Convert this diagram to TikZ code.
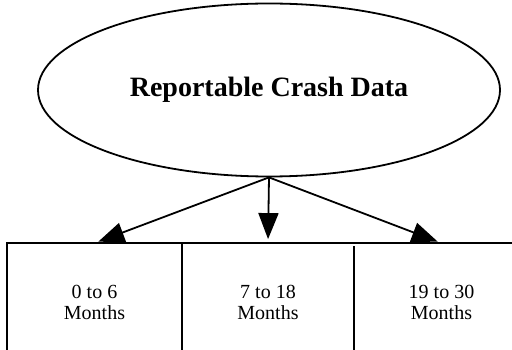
\documentclass[tikz,border=0pt]{standalone}
\usepackage{fontspec}
\setmainfont{Liberation Serif}
\usetikzlibrary{shapes.geometric,arrows.meta}

\begin{document}
\begin{tikzpicture}[x=1pt, y=-1pt, line width=1.8pt,
    >={Triangle[length=26pt, width=20pt]},
    period/.style={minimum width=173pt, minimum height=116pt, inner sep=0pt,
      align=center, font=\fontsize{20}{21}\selectfont}]
    \useasboundingbox (0,0) rectangle (512,350);
    % root ellipse
    \node[ellipse, draw, minimum width=462pt, minimum height=173pt,
      font=\fontsize{28}{30}\selectfont\bfseries] (data) at (269,90) {Reportable Crash Data};
    % the three periods
    \node[period] (p1) at (94.5,302) {0 to 6\\Months};
    \node[period] (p2) at (268,302) {7 to 18\\Months};
    \node[period] (p3) at (441.5,302) {19 to 30\\Months};
    \draw (p1.south west) -- (p1.north west) -- (p3.north east);
    \draw (p1.north east) -- (p1.south east);
    \draw ([yshift=-3pt]p3.north west) -- (p3.south west);
    % arrows out of the ellipse
    \foreach \p in {p1,p2,p3}
      \draw[->, shorten >=4pt] (data.south) -- (\p.north);
  \end{tikzpicture}
\end{document}
